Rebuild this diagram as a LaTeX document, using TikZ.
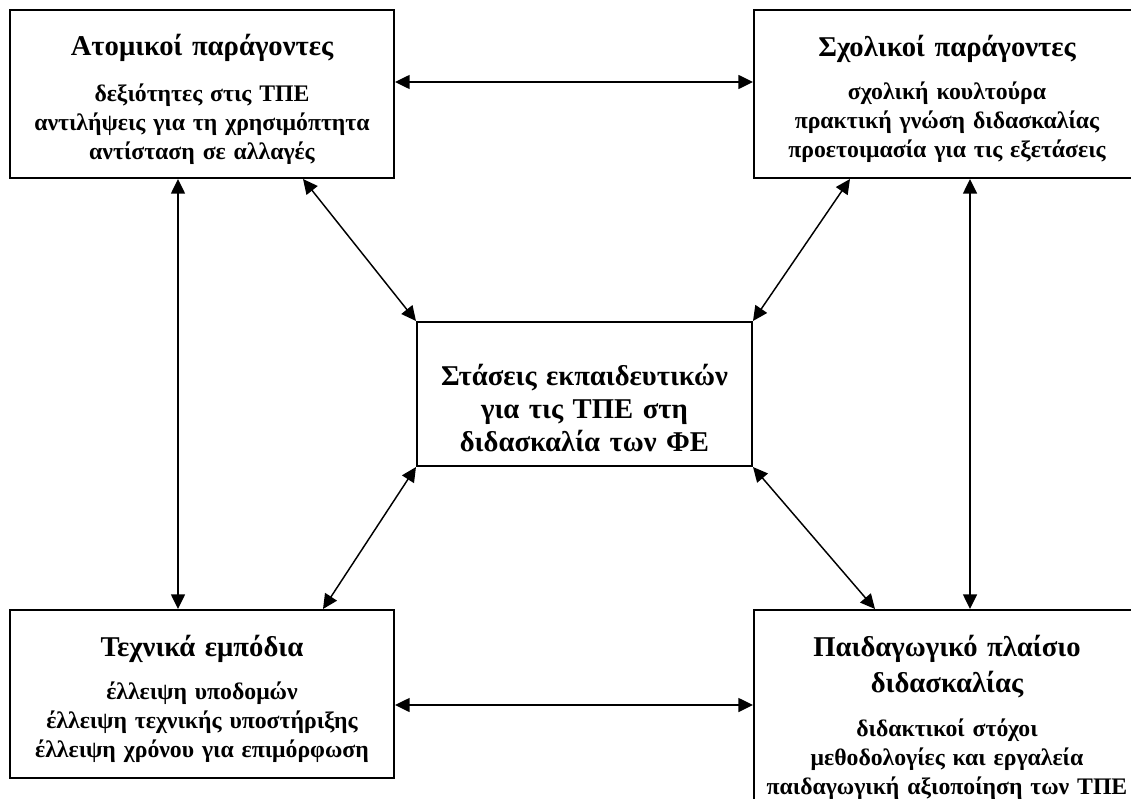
\documentclass[tikz,border=0pt]{standalone}
\usepackage{fontspec}
\setmainfont{Liberation Serif}
\usetikzlibrary{arrows.meta}

\begin{document}
\begin{tikzpicture}[
    x=0.75pt, y=-0.75pt,
    >={Triangle[length=11pt,width=10.5pt]},
    box/.style={draw, line width=1.5pt, inner sep=0pt},
    heading/.style={font=\fontsize{21.5}{27}\selectfont\bfseries, align=center, text width=285pt, inner sep=0pt, anchor=base},
    items/.style={font=\fontsize{17.8}{21.8}\selectfont\bfseries, align=center, text width=285pt, inner sep=0pt, anchor=base},
    link/.style={<->, line width=1.1pt},
]

\useasboundingbox (0,0) rectangle (1131,799);
\clip (0,0) rectangle (1131,799);

% Boxes
\node[box, minimum width=288pt, minimum height=126pt] (tl) at (202,94) {};
\node[box, minimum width=289.5pt, minimum height=126pt] (tr) at (947,94) {};
\node[box, minimum width=251.25pt, minimum height=108pt] (c) at (584.5,394) {};
\node[box, minimum width=288pt, minimum height=126pt] (bl) at (202,694) {};
\node[box, minimum width=289.5pt, minimum height=161.25pt] (br) at (947,717.5) {};

% Texts
\node[heading] (tlhead) at ([yshift=-35.25pt]tl.north) {Ατομικοί παράγοντες};
\node[items] (tlitems) at ([yshift=-69pt]tl.north) {δεξιότητες στις ΤΠΕ\\αντιλήψεις για τη χρησιμόπτητα\\αντίσταση σε αλλαγές};

\node[heading] (trhead) at ([yshift=-36pt]tr.north) {Σχολικοί παράγοντες};
\node[items] (tritems) at ([yshift=-68pt]tr.north) {σχολική κουλτούρα\\πρακτική γνώση διδασκαλίας\\προετοιμασία για τις εξετάσεις};

\node[heading, font=\fontsize{21.5}{24.75}\selectfont\bfseries] (chead) at ([yshift=-48pt]c.north) {Στάσεις εκπαιδευτικών\\για τις ΤΠΕ στη\\διδασκαλία των ΦΕ};

\node[heading] (blhead) at ([yshift=-35.25pt]bl.north) {Τεχνικά εμπόδια};
\node[items] (blitems) at ([yshift=-67.5pt]bl.north) {έλλειψη υποδομών\\έλλειψη τεχνικής υποστήριξης\\έλλειψη χρόνου για επιμόρφωση};

\node[heading] (brhead) at ([yshift=-35.25pt]br.north) {Παιδαγωγικό πλαίσιο\\διδασκαλίας};
\node[items] (britems) at ([yshift=-95.25pt]br.north) {διδακτικοί στόχοι\\μεθοδολογίες και εργαλεία\\παιδαγωγική αξιοποίηση των ΤΠΕ};

% Connectors
\draw[link] ([yshift=9pt]tl.east) -- ([yshift=9pt]tl.east -| tr.west);
\draw[link] ([yshift=-8.25pt]bl.east) -- ([yshift=-8.25pt]bl.east -| br.west);
\draw[link] ([xshift=-18pt]tl.south) -- ([xshift=-18pt]bl.north);
\draw[link] ([xshift=17.25pt]tr.south) -- ([xshift=17.25pt]br.north);
\draw[link] ([xshift=75.75pt]tl.south) -- (c.north west);
\draw[link] ([xshift=-72.75pt]tr.south) -- (c.north east);
\draw[link] ([xshift=90.75pt]bl.north) -- (c.south west);
\draw[link] ([xshift=-54pt]br.north) -- (c.south east);

\end{tikzpicture}
\end{document}
